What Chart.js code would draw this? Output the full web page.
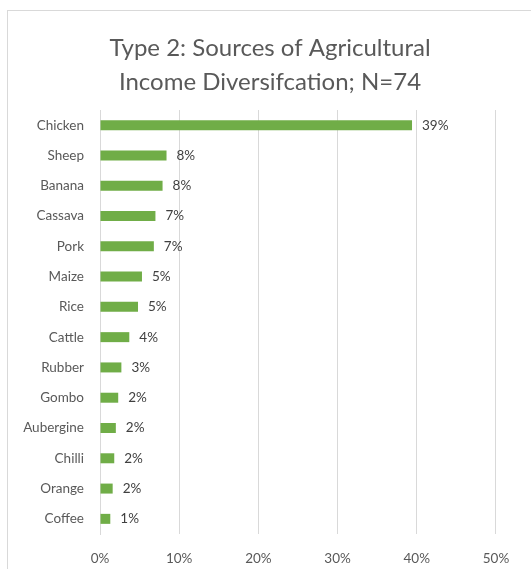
<!DOCTYPE html>
<html>
<head>
<meta charset="utf-8">
<script src="https://cdn.jsdelivr.net/npm/chart.js@4"></script>
<style>
  body { margin: 0; background: #fff; overflow: hidden; }
  #box { position: absolute; left: 7px; top: 10px; width: 540px; height: 580px; border: 1px solid #d9d9d9; }
  #wrap { position: absolute; left: 0; top: 0; width: 524px; height: 570px; }
</style>
</head>
<body>
<div id="box"><div id="wrap"><canvas id="myChart"></canvas></div></div>
<script>
'use strict'

// sources de revenus (ordre du graphique, haut vers bas)
const sources = ['Chicken', 'Sheep', 'Banana', 'Cassava', 'Pork', 'Maize', 'Rice',
  'Cattle', 'Rubber', 'Gombo', 'Aubergine', 'Chilli', 'Orange', 'Coffee'];
// part en %
const shares = [39.4, 8.4, 7.9, 7.0, 6.8, 5.3, 4.8, 3.7, 2.7, 2.3, 2.0, 1.8, 1.6, 1.3];
const xTicks = [0, 10, 20, 30, 40, 50];

const grey = '#595959';
const font = 'Lato, "Open Sans", sans-serif';

// etiquettes de valeur au bout des barres
const barLabels = {
  id: 'barLabels',
  afterDatasetsDraw(chart) {
    const ctx = chart.ctx;
    const meta = chart.getDatasetMeta(0);
    ctx.save();
    ctx.font = '13.5px ' + font;
    ctx.fillStyle = '#404040';
    ctx.textAlign = 'left';
    ctx.textBaseline = 'middle';
    meta.data.forEach(function (bar, i) {
      ctx.fillText(Math.round(shares[i]) + '%', bar.x + 10, bar.y);
    });
    ctx.restore();
  }
};

let ctx = document.getElementById('myChart');

new Chart(ctx, {
  type: 'bar',
  data: {
    labels: sources,
    datasets: [{
      data: shares,
      backgroundColor: '#70ad47',
      categoryPercentage: 1,
      barPercentage: 0.33
    }]
  },
  options: {
    indexAxis: 'y',
    responsive: true,
    maintainAspectRatio: false,
    animation: false,
    layout: { padding: 0 },
    plugins: {
      legend: { display: false },
      tooltip: { enabled: false },
      title: {
        display: true,
        text: ['Type 2: Sources of Agricultural', 'Income Diversifcation; N=74'],
        color: grey,
        font: { family: font, size: 24, weight: 'normal', lineHeight: 34 / 24 },
        padding: { top: 20, bottom: 11 }
      }
    },
    scales: {
      x: {
        min: 0,
        // l'axe continue au-dela de 50% (hors cadre a droite)
        max: 54.55,
        afterBuildTicks(scale) {
          scale.ticks = xTicks.map(v => ({ value: v }));
        },
        afterFit(scale) { scale.height = 47; },
        grid: { color: '#d9d9d9', drawTicks: false },
        border: { display: false },
        ticks: {
          color: grey,
          padding: 17,
          font: { family: font, size: 13.5 },
          callback: v => v + '%'
        }
      },
      y: {
        afterFit(scale) { scale.width = 92; },
        grid: { display: false, drawTicks: false },
        border: { display: true, color: '#d9d9d9' },
        ticks: {
          color: grey,
          padding: 16,
          font: { family: font, size: 13.5 }
        }
      }
    }
  },
  plugins: [barLabels]
});
</script>
</body>
</html>
